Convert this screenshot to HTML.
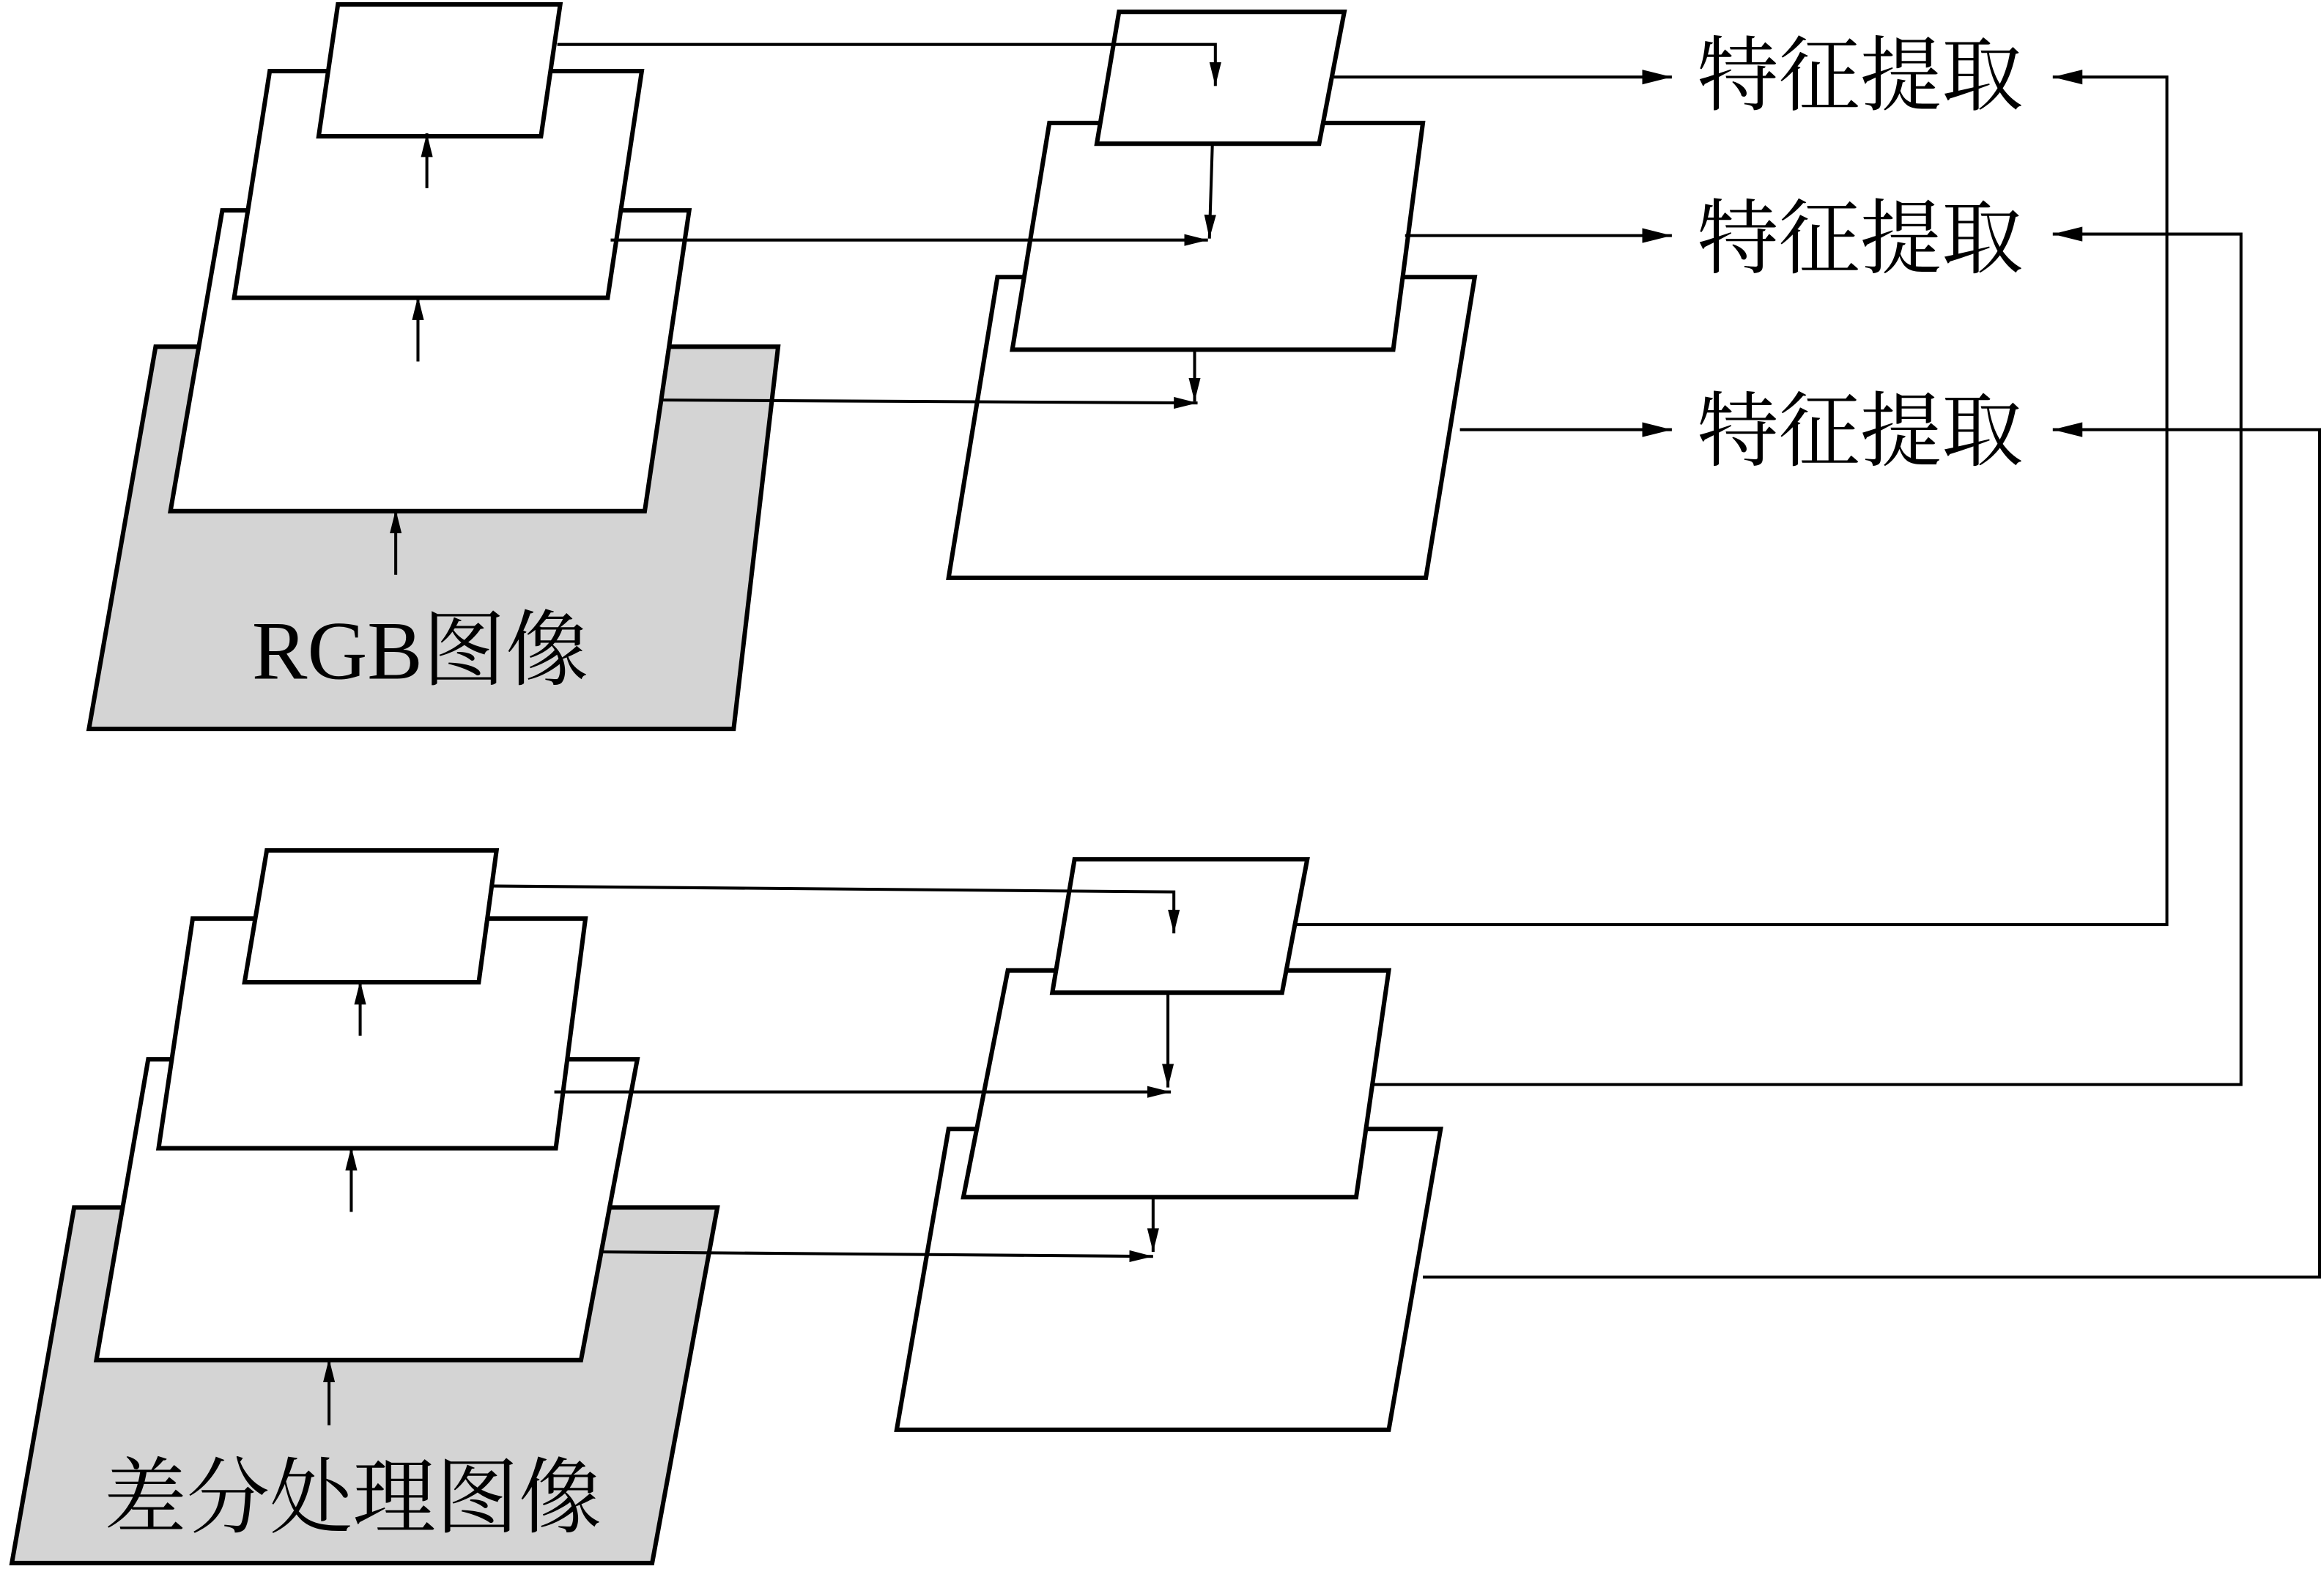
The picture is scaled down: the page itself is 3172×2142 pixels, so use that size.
<!DOCTYPE html>
<html><head><meta charset="utf-8"><style>html,body{margin:0;padding:0;background:#fff}svg{display:block}</style></head>
<body>
<svg width="3172" height="2142" viewBox="0 0 1568 1059" preserveAspectRatio="none" xmlns="http://www.w3.org/2000/svg">
<defs><marker id="a" markerWidth="16" markerHeight="8" refX="16" refY="4" orient="auto" markerUnits="userSpaceOnUse" viewBox="0 0 16 8"><path d="M0,0 L16,4 L0,8 z" fill="#000"/></marker>
<marker id="b" markerWidth="20" markerHeight="10" refX="20" refY="5" orient="auto" markerUnits="userSpaceOnUse" viewBox="0 0 20 10"><path d="M0,0 L20,5 L0,10 z" fill="#000"/></marker></defs>
<g stroke="#000" stroke-width="3" stroke-linejoin="miter">
<polygon points="105,234 525,234 495,492 60,492" fill="#d4d4d4"/>
<polygon points="150,142 465,142 435,345 115,345" fill="#fff"/>
<polygon points="182,48 433,48 410,201 158,201" fill="#fff"/>
<polygon points="228,3 378,3 365,92 215,92" fill="#fff"/>
<polygon points="673,187 995,187 962,390 640,390" fill="#fff"/>
<polygon points="708,83 960,83 940,236 683,236" fill="#fff"/>
<polygon points="755,8 907,8 890,97 740,97" fill="#fff"/>
<polygon points="50,815 484,815 440,1055 8,1055" fill="#d4d4d4"/>
<polygon points="100,715 430,715 392,918 65,918" fill="#fff"/>
<polygon points="130,620 395,620 375,775 107,775" fill="#fff"/>
<polygon points="180,574 335,574 323,663 165,663" fill="#fff"/>
<polygon points="640,762 972,762 937,965 605,965" fill="#fff"/>
<polygon points="680,655 937,655 915,808 650,808" fill="#fff"/>
<polygon points="725,580 882,580 865,670 710,670" fill="#fff"/>
</g>
<g stroke="#000" stroke-width="2" fill="none">
<line x1="288" y1="127" x2="288" y2="90" marker-end="url(#a)"/>
<line x1="282" y1="244" x2="282" y2="200" marker-end="url(#a)"/>
<line x1="267" y1="388" x2="267" y2="344" marker-end="url(#a)"/>
<polyline points="376,30 820,30 820,58" marker-end="url(#a)"/>
<line x1="412" y1="162" x2="815" y2="162" marker-end="url(#a)"/>
<line x1="447" y1="270" x2="808" y2="272" marker-end="url(#a)"/>
<line x1="818" y1="97" x2="816" y2="161" marker-end="url(#a)"/>
<line x1="806" y1="236" x2="806" y2="271" marker-end="url(#a)"/>
<line x1="900" y1="52" x2="1128" y2="52" marker-end="url(#b)"/>
<line x1="948" y1="159" x2="1128" y2="159" marker-end="url(#b)"/>
<line x1="985" y1="290" x2="1128" y2="290" marker-end="url(#b)"/>
<polyline points="875,624 1462,624 1462,52 1385,52" marker-end="url(#b)"/>
<polyline points="925,732 1512,732 1512,158 1385,158" marker-end="url(#b)"/>
<polyline points="960,862 1565,862 1565,290 1385,290" marker-end="url(#b)"/>
<line x1="243" y1="699" x2="243" y2="662" marker-end="url(#a)"/>
<line x1="237" y1="818" x2="237" y2="774" marker-end="url(#a)"/>
<line x1="222" y1="962" x2="222" y2="917" marker-end="url(#a)"/>
<polyline points="333,598 792,602 792,630" marker-end="url(#a)"/>
<line x1="374" y1="737" x2="790" y2="737" marker-end="url(#a)"/>
<line x1="407" y1="845" x2="778" y2="848" marker-end="url(#a)"/>
<line x1="788" y1="670" x2="788" y2="734" marker-end="url(#a)"/>
<line x1="778" y1="808" x2="778" y2="845" marker-end="url(#a)"/>
</g>
<g font-family="'Liberation Serif','Noto Serif CJK SC',serif" font-size="55" fill="#000">
<text x="1145" y="70">特征提取</text>
<text x="1145" y="180">特征提取</text>
<text x="1145" y="310">特征提取</text>
<text x="170" y="458" font-size="56">RGB图像</text>
<text x="70" y="1030" font-size="56">差分处理图像</text>
</g>
</svg>
</body></html>
